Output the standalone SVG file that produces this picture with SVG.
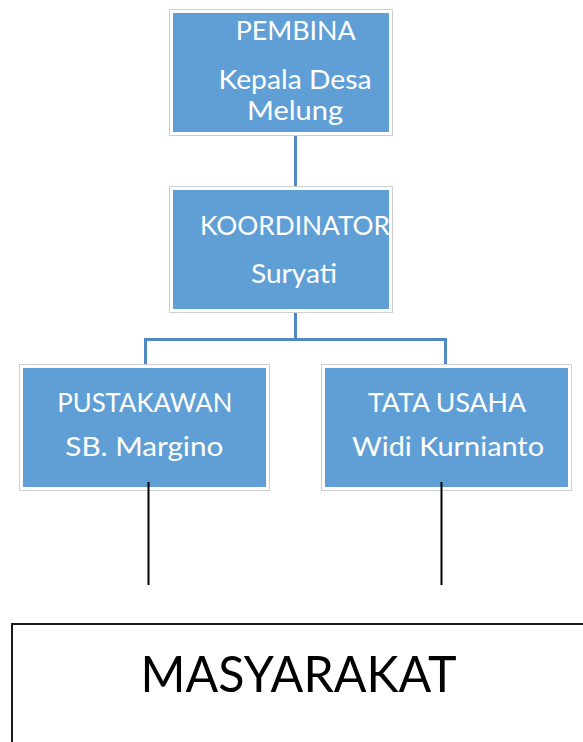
<svg xmlns="http://www.w3.org/2000/svg" width="583" height="742" viewBox="0 0 583 742">
<style>
.box{fill:#5f9fd6;stroke:#ffffff;stroke-width:3}
.frame{fill:none;stroke:#cfcfcf;stroke-width:1}
.t{font-family:Lato,"Liberation Sans",sans-serif;font-size:26.5px;fill:#ffffff;text-anchor:middle}
.conn{fill:none;stroke:#5089c2;stroke-width:3}
.blk{fill:none;stroke:#000000;stroke-width:2}
</style>
<rect width="583" height="742" fill="#ffffff"/>
<g id="connectors">
<path class="conn" d="M295.5 135 V187"/>
<path class="conn" d="M295.5 312 V339.5 M145.5 365 V339.5 H445.5 V365"/>
</g>
<g id="pembina">
<rect class="frame" x="169.5" y="9.5" width="223" height="126"/>
<rect class="box" x="171.5" y="11.5" width="219" height="122"/>
<text class="t" x="295.7" y="39.5" textLength="120" lengthAdjust="spacingAndGlyphs">PEMBINA</text>
<text class="t" x="295" y="88.5" textLength="153" lengthAdjust="spacingAndGlyphs">Kepala Desa</text>
<text class="t" x="295" y="120" textLength="96" lengthAdjust="spacingAndGlyphs">Melung</text>
</g>
<g id="koordinator">
<rect class="frame" x="169.5" y="186.5" width="223" height="126"/>
<rect class="box" x="171.5" y="188.5" width="219" height="122"/>
<text class="t" x="295" y="235" textLength="190" lengthAdjust="spacingAndGlyphs">KOORDINATOR</text>
<text class="t" x="294" y="283" textLength="86" lengthAdjust="spacingAndGlyphs">Suryati</text>
</g>
<g id="pustakawan">
<rect class="frame" x="19.5" y="364.5" width="250" height="126"/>
<rect class="box" x="21.5" y="366.5" width="246" height="122"/>
<text class="t" x="144.8" y="412" textLength="175" lengthAdjust="spacingAndGlyphs">PUSTAKAWAN</text>
<text class="t" x="144.3" y="456" textLength="158" lengthAdjust="spacingAndGlyphs">SB. Margino</text>
</g>
<g id="tata-usaha">
<rect class="frame" x="321.5" y="364.5" width="250" height="126"/>
<rect class="box" x="323.5" y="366.5" width="246" height="122"/>
<text class="t" x="447" y="412" textLength="158" lengthAdjust="spacingAndGlyphs">TATA USAHA</text>
<text class="t" x="448" y="456" textLength="192" lengthAdjust="spacingAndGlyphs">Widi Kurnianto</text>
</g>
<g id="connectors-black">
<path class="blk" d="M148.5 482 V585"/>
<path class="blk" d="M441.5 482 V585"/>
</g>
<g id="masyarakat">
<rect x="12" y="624" width="580" height="130" fill="#ffffff" stroke="#1a1a1a" stroke-width="2"/>
<text x="298.5" y="691.7" textLength="316" lengthAdjust="spacingAndGlyphs" style="font-family:Lato,'Liberation Sans',sans-serif;font-size:51px;fill:#000000;text-anchor:middle">MASYARAKAT</text>
</g>
</svg>
